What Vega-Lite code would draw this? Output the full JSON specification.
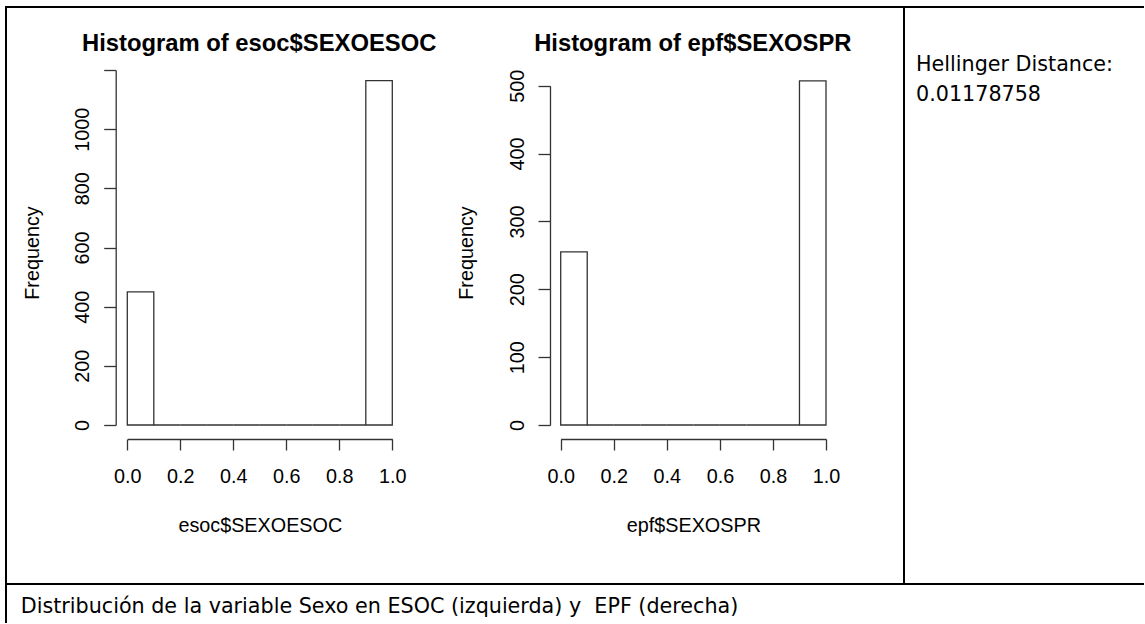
{
  "$schema": "https://vega.github.io/schema/vega-lite/v6.json",
  "padding": {"left": 5, "top": 6, "right": 0, "bottom": 0},
  "background": "white",
  "columns": 3,
  "align": "each",
  "spacing": 0,
  "bounds": "flush",
  "datasets": {
    "esoc": [
      {"bin_start": 0.0, "bin_end": 0.1, "count": 450},
      {"bin_start": 0.1, "bin_end": 0.2, "count": 0},
      {"bin_start": 0.2, "bin_end": 0.3, "count": 0},
      {"bin_start": 0.3, "bin_end": 0.4, "count": 0},
      {"bin_start": 0.4, "bin_end": 0.5, "count": 0},
      {"bin_start": 0.5, "bin_end": 0.6, "count": 0},
      {"bin_start": 0.6, "bin_end": 0.7, "count": 0},
      {"bin_start": 0.7, "bin_end": 0.8, "count": 0},
      {"bin_start": 0.8, "bin_end": 0.9, "count": 0},
      {"bin_start": 0.9, "bin_end": 1.0, "count": 1164}
    ],
    "epf": [
      {"bin_start": 0.0, "bin_end": 0.1, "count": 255},
      {"bin_start": 0.1, "bin_end": 0.2, "count": 0},
      {"bin_start": 0.2, "bin_end": 0.3, "count": 0},
      {"bin_start": 0.3, "bin_end": 0.4, "count": 0},
      {"bin_start": 0.4, "bin_end": 0.5, "count": 0},
      {"bin_start": 0.5, "bin_end": 0.6, "count": 0},
      {"bin_start": 0.6, "bin_end": 0.7, "count": 0},
      {"bin_start": 0.7, "bin_end": 0.8, "count": 0},
      {"bin_start": 0.8, "bin_end": 0.9, "count": 0},
      {"bin_start": 0.9, "bin_end": 1.0, "count": 507}
    ],
    "caption": [
      {"caption": "Distribución de la variable Sexo en ESOC (izquierda) y \u00a0EPF (derecha)"}
    ],
    "none": []
  },
  "concat": [
    {
      "width": 424,
      "height": 577,
      "data": {"name": "esoc"},
      "view": {"stroke": "black", "strokeWidth": 2, "strokeDash": [424, 577, 1001, 1]},
      "title": {
        "text": "Histogram of esoc$SEXOESOC",
        "anchor": "middle", "frame": "group", "orient": "top",
        "font": "Liberation Sans", "fontSize": 23.8, "fontWeight": "bold", "color": "#000",
        "baseline": "alphabetic", "offset": 0, "dx": 41.2, "dy": 67.5
      },
      "mark": {"type": "bar", "fill": "white", "stroke": "#333", "strokeWidth": 1.3},
      "encoding": {
        "x": {
          "field": "bin_start", "type": "quantitative",
          "scale": {"domain": [0, 1], "range": [121.3, 386.3], "nice": false, "zero": false},
          "axis": {"orient": "bottom", "offset": -145, "values": [0, 0.2, 0.4, 0.6, 0.8, 1], "format": ".1f", "title": "esoc$SEXOESOC"}
        },
        "x2": {"field": "bin_end"},
        "y": {
          "field": "count", "type": "quantitative",
          "scale": {"domain": [0, 1200], "range": [418, 63], "nice": false},
          "axis": {"orient": "left", "offset": -109.7, "values": [0, 200, 400, 600, 800, 1000, 1200], "format": "d",
                   "labelExpr": "datum.value == 1200 ? '' : datum.label", "title": "Frequency"}
        },
        "y2": {"datum": 0}
      }
    },
    {
      "width": 474,
      "height": 577,
      "data": {"name": "epf"},
      "view": {"stroke": "black", "strokeWidth": 2, "strokeDash": [1525, 577]},
      "title": {
        "text": "Histogram of epf$SEXOSPR",
        "anchor": "middle", "frame": "group", "orient": "top",
        "font": "Liberation Sans", "fontSize": 23.8, "fontWeight": "bold", "color": "#000",
        "baseline": "alphabetic", "offset": 0, "dx": 25.8, "dy": 67.5
      },
      "mark": {"type": "bar", "fill": "white", "stroke": "#333", "strokeWidth": 1.3},
      "encoding": {
        "x": {
          "field": "bin_start", "type": "quantitative",
          "scale": {"domain": [0, 1], "range": [130.7, 396], "nice": false, "zero": false},
          "axis": {"orient": "bottom", "offset": -145, "values": [0, 0.2, 0.4, 0.6, 0.8, 1], "format": ".1f", "title": "epf$SEXOSPR"}
        },
        "x2": {"field": "bin_end"},
        "y": {
          "field": "count", "type": "quantitative",
          "scale": {"domain": [0, 500], "range": [418, 78.7], "nice": false},
          "axis": {"orient": "left", "offset": -120, "values": [0, 100, 200, 300, 400, 500], "format": "d", "title": "Frequency"}
        },
        "y2": {"datum": 0}
      }
    },
    {
      "width": 240,
      "height": 577,
      "data": {"name": "none"},
      "view": {"stroke": "black", "strokeWidth": 2, "strokeDash": [240, 577, 240, 577]},
      "title": {
        "text": ["Hellinger Distance:", "0.01178758"],
        "anchor": "start", "frame": "group", "orient": "top",
        "font": "DejaVu Sans", "fontSize": 20.7, "fontWeight": "normal", "color": "#000",
        "baseline": "alphabetic", "lineHeight": 30, "offset": 0, "dx": 12, "dy": 114.4
      },
      "mark": {"type": "text"},
      "encoding": {}
    },
    {
      "width": 29.4,
      "height": 39,
      "data": {"name": "caption"},
      "view": {"stroke": "black", "strokeWidth": 2, "strokeDash": [0, 97.8, 39, 1]},
      "mark": {"type": "text", "align": "left", "baseline": "alphabetic", "font": "DejaVu Sans", "fontSize": 20.7, "color": "#000", "dy": 9.8},
      "encoding": {"text": {"field": "caption", "type": "nominal"}}
    }
  ],
  "config": {
    "axis": {
      "grid": false,
      "domainColor": "#333", "domainWidth": 1.3,
      "tickColor": "#333", "tickWidth": 1.3,
      "labelFont": "Liberation Sans", "labelFontSize": 19.8, "labelColor": "#000",
      "titleFont": "Liberation Sans", "titleFontSize": 19.8, "titleFontWeight": "normal", "titleColor": "#000",
      "labelFlush": false, "labelOverlap": false
    },
    "axisX": {
      "tickSize": 11, "labelPadding": 32.7, "labelAngle": 0, "labelAlign": "center", "labelBaseline": "alphabetic",
      "titleY": 92.7, "titleBaseline": "alphabetic", "titleAlign": "center"
    },
    "axisY": {
      "tickSize": 12, "labelPadding": 15, "labelAngle": 270, "labelAlign": "center", "labelBaseline": "alphabetic",
      "titleAngle": 270, "titleAlign": "center", "titleBaseline": "alphabetic", "titleX": -77.2, "titleY": 245.5
    }
  }
}
